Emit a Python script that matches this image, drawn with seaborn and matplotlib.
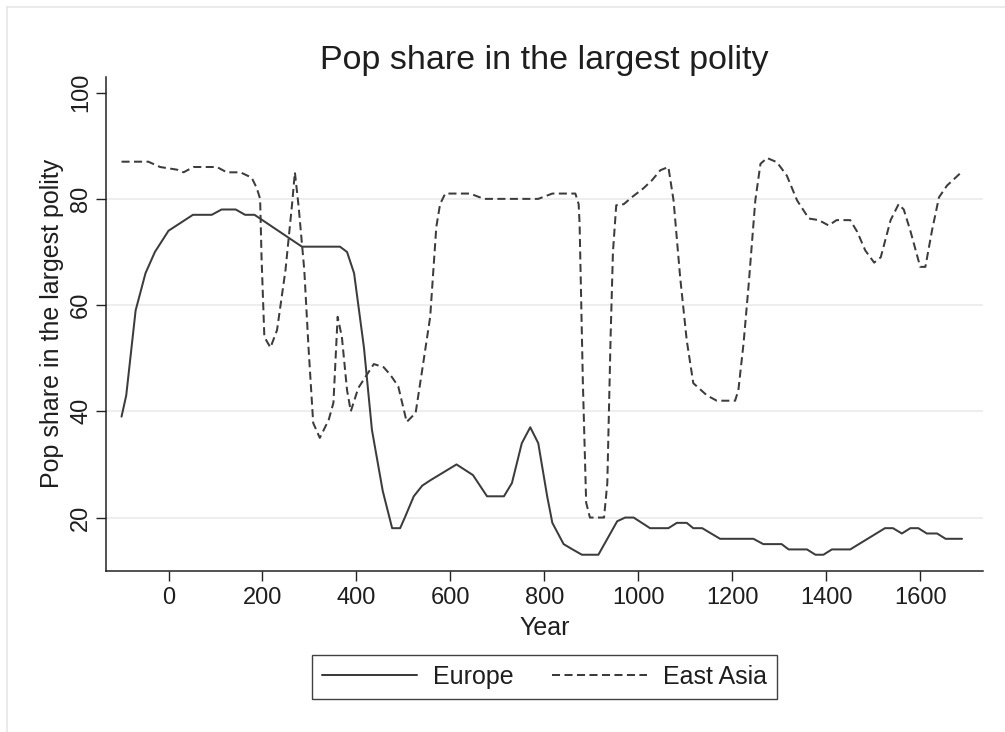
import numpy as np
import pandas as pd
import matplotlib.pyplot as plt
from matplotlib.patches import Rectangle
import seaborn as sns

# values
years_europe = [-100, -90, -70, -49, -29, 0, 52, 92, 113, 143, 163, 183, 284, 365, 380,
                395, 416, 433, 456, 476, 493, 503, 522, 540, 557, 613, 648, 678, 714, 731,
                752, 770, 787, 806, 817, 841, 860, 880, 915, 955, 972, 990, 1025, 1064, 1082,
                1103, 1117, 1136, 1174, 1245, 1266, 1305, 1320, 1359, 1377, 1394, 1412, 1451,
                1525, 1542, 1561, 1579, 1596, 1614, 1636, 1654, 1689]
share_europe = [39, 43, 59, 66, 70, 74, 77, 77, 78, 78, 77, 77, 71, 71, 70,
                66, 52, 36.5, 25, 18, 18, 20, 24, 26, 27, 30, 28, 24, 24, 26.5,
                34, 37, 34, 24, 19, 15, 14, 13, 13, 19.3, 20, 20, 18, 18, 19,
                19, 18, 18, 16, 16, 15, 15, 14, 14, 13, 13, 14, 14,
                18, 18, 17, 18, 18, 17, 17, 16, 16]

years_asia = [-100, -43, -18, 18, 32, 53, 103, 124, 153, 177, 188, 195, 198, 204, 217,
              231, 249, 263, 269, 277, 289, 298, 308, 322, 341, 351, 360, 369, 380, 388,
              404, 423, 437, 458, 472, 489, 507, 526, 540, 557, 570, 578, 589, 642, 671,
              787, 817, 866, 873, 875, 882, 889, 897, 927, 934, 941, 946, 953, 969, 986,
              1011, 1029, 1047, 1064, 1075, 1089, 1103, 1117, 1146, 1167, 1206, 1213, 1224,
              1235, 1249, 1260, 1274, 1295, 1316, 1338, 1363, 1384, 1405, 1422, 1451, 1466,
              1483, 1502, 1516, 1537, 1554, 1565, 1579, 1600, 1611, 1625, 1640, 1657, 1685]
share_asia = [87, 87, 86, 85.5, 85, 86, 86, 85, 85, 84, 82, 80, 69, 54, 52,
              55.3, 66.6, 79, 85, 78.5, 66.6, 52, 37.8, 35, 38.4, 41.6, 57.8, 54, 44, 40,
              44.4, 47, 48.9, 48.3, 46.9, 44.7, 38, 39.7, 47.8, 57.8, 74.7, 79, 81, 81, 80,
              80, 81, 81, 79, 75.3, 45.3, 22.8, 20, 20, 26.5, 54, 70, 78.8, 79, 80.3,
              82, 83.5, 85.4, 86, 79.7, 65.3, 53.4, 45.3, 43, 42, 42, 44, 52.8,
              64, 79.7, 86.6, 87.7, 86.9, 84.4, 79.7, 76.3, 76, 75, 76, 76, 73.8,
              70.3, 68, 69, 76, 79, 78, 74, 67.2, 67.2, 74, 80.3, 82.5, 84.8]

regions = ["Europe", "East Asia"]
x_ticks = list(range(0, 1601, 200))
y_ticks = [20, 40, 60, 80, 100]

df = pd.concat([
    pd.DataFrame({"Year": years_europe, "Share": share_europe, "Region": "Europe"}),
    pd.DataFrame({"Year": years_asia, "Share": share_asia, "Region": "East Asia"}),
], ignore_index=True)

sns.set_theme(style="white")
plt.rcParams["font.family"] = ["Liberation Sans", "DejaVu Sans"]

line_col = "#3c3c3c"
text_col = "#1e1e1e"

fig = plt.figure(figsize=(10.05, 7.32), dpi=100)
ax = fig.add_axes([0.1055, 0.2204, 0.8723, 0.6748])

sns.lineplot(data=df, x="Year", y="Share", style="Region", style_order=regions,
             dashes={"Europe": "", "East Asia": (4, 2.2)}, color=line_col,
             linewidth=1.45, estimator=None, errorbar=None, legend=False, ax=ax)

ax.set_xlim(-133, 1733)
ax.set_ylim(10, 103)
ax.set_xticks(x_ticks)
ax.set_yticks(y_ticks)

# Stata-like axes: only left/bottom, outward ticks, rotated y labels
for side in ["top", "right"]:
    ax.spines[side].set_visible(False)
for side in ["left", "bottom"]:
    ax.spines[side].set_color("#222222")
    ax.spines[side].set_linewidth(1.1)
ax.tick_params(axis="both", direction="out", length=7, width=1.0, color="#222222",
               labelsize=17, labelcolor=text_col, left=True, bottom=True)
ax.tick_params(axis="x", pad=5)
ax.tick_params(axis="y", pad=3)
for lab in ax.get_yticklabels():
    lab.set_rotation(90)
    lab.set_va("center")

ax.yaxis.grid(True, color="#e9e9e9", linewidth=1.1)
ax.xaxis.grid(False)
ax.yaxis.get_gridlines()[-1].set_visible(False)
ax.set_axisbelow(True)

ax.set_xlabel("Year", fontsize=18, color=text_col)
ax.set_ylabel("Pop share in the largest polity", fontsize=18, color=text_col)
ax.xaxis.label.set_va("center")
ax.xaxis.set_label_coords(0.5, -0.116)
ax.yaxis.label.set_va("center")
ax.yaxis.set_label_coords(-0.0616, 0.5)

fig.text(0.5418, 0.918, "Pop share in the largest polity", fontsize=24.5,
         color=text_col, ha="center", va="center")

leg = fig.legend(ax.lines[:2], regions, loc="center", bbox_to_anchor=(0.5418, 0.0751),
                 ncol=2, frameon=True, fancybox=False, shadow=False, fontsize=18,
                 handlelength=3.8, handletextpad=0.64, columnspacing=1.56,
                 borderpad=0.4, labelcolor=text_col)
leg.get_frame().set_edgecolor("#111111")
leg.get_frame().set_linewidth(1.0)

# faint outer frame of the graph region
fig.patches.append(Rectangle((7 / 1005, -0.1), 1.2, 1.1 - 7 / 732, transform=fig.transFigure,
                             fill=False, edgecolor="#e6e6e6", linewidth=1.2, figure=fig))

fig.savefig("out.png", dpi=100, facecolor="white")
